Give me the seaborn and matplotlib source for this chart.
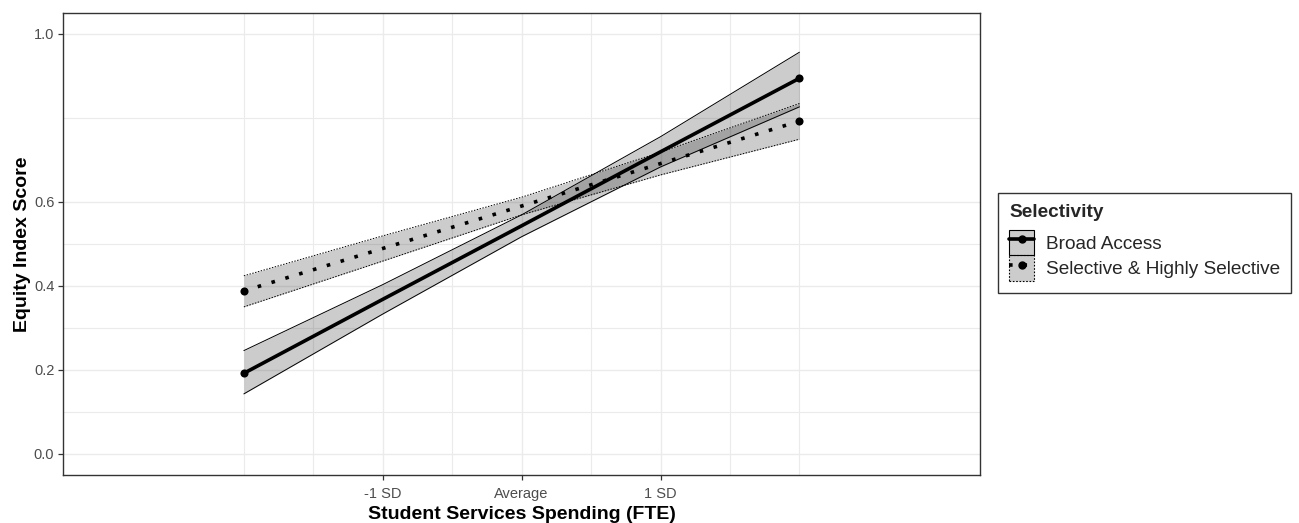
import numpy as np
import pandas as pd
import matplotlib
matplotlib.use("Agg")
import matplotlib.pyplot as plt
from matplotlib.patches import Patch
from matplotlib.lines import Line2D
import seaborn as sns

# Predicted equity index by student-services spending (in SD units)
spending_sd = [-2, -1, 0, 1, 2]

broad_fit = [0.192, 0.368, 0.543, 0.719, 0.894]
broad_lo = [0.143, 0.333, 0.517, 0.683, 0.826]
broad_hi = [0.246, 0.403, 0.569, 0.755, 0.956]

sel_fit = [0.388, 0.489, 0.590, 0.691, 0.792]
sel_lo = [0.350, 0.459, 0.569, 0.664, 0.749]
sel_hi = [0.424, 0.519, 0.611, 0.718, 0.834]

groups = ["Broad Access", "Selective & Highly Selective"]

x_ticks = [-1, 0, 1]
x_tick_labels = ["-1 SD", "Average", "1 SD"]
y_ticks = [0.0, 0.2, 0.4, 0.6, 1.0]
y_tick_labels = ["0.0", "0.2", "0.4", "0.6", "1.0"]

df = pd.concat([
    pd.DataFrame({"spending": spending_sd, "fit": broad_fit, "lo": broad_lo,
                  "hi": broad_hi, "group": groups[0]}),
    pd.DataFrame({"spending": spending_sd, "fit": sel_fit, "lo": sel_lo,
                  "hi": sel_hi, "group": groups[1]}),
], ignore_index=True)

sns.set_theme(style="white")
plt.rcParams["font.family"] = ["Liberation Sans", "DejaVu Sans"]

W, H = 1299, 523
fig = plt.figure(figsize=(W / 100, H / 100), dpi=100)
left, right, top, bottom = 63.3, 980, 12.7, 475
ax = fig.add_axes([left / W, 1 - bottom / H, (right - left) / W, (bottom - top) / H])

band_fill = (0, 0, 0, 0.2)
line_style = {groups[0]: "-", groups[1]: (0, (1, 3))}
edge_style = {groups[0]: "-", groups[1]: (0, (1.5, 1.5))}

for g in groups:
    d = df[df["group"] == g]
    ax.fill_between(d["spending"], d["lo"], d["hi"], color=band_fill, lw=0, zorder=2)
    ax.plot(d["spending"], d["lo"], color="black", lw=0.7, ls=edge_style[g], zorder=3)
    ax.plot(d["spending"], d["hi"], color="black", lw=0.7, ls=edge_style[g], zorder=3)

for g in groups:
    d = df[df["group"] == g]
    sns.lineplot(data=d, x="spending", y="fit", color="black", linewidth=2.6,
                 linestyle=line_style[g], sort=False, errorbar=None, ax=ax,
                 legend=False, zorder=4)
    ends = d[d["spending"].isin([min(spending_sd), max(spending_sd)])]
    sns.scatterplot(data=ends, x="spending", y="fit", color="black", s=34,
                    linewidth=0, ax=ax, legend=False, zorder=5)

ax.set_xlim(-3.3, 3.3)
ax.set_ylim(-0.05, 1.05)
ax.set_xticks(x_ticks)
ax.set_xticklabels(x_tick_labels)
ax.set_yticks(y_ticks)
ax.set_yticklabels(y_tick_labels)
ax.set_xticks([-2, -1.5, -0.5, 0.5, 1.5, 2], minor=True)
ax.set_yticks([0.1, 0.3, 0.5, 0.8], minor=True)

ax.grid(True, which="major", color="#EBEBEB", lw=1.0, zorder=0)
ax.grid(True, which="minor", color="#EBEBEB", lw=0.8, zorder=0)
ax.set_axisbelow(True)
for s in ax.spines.values():
    s.set_color("#333333")
    s.set_linewidth(1.0)
ax.tick_params(axis="both", which="major", length=3.5, width=0.9, color="#333333",
               labelsize=10.5, labelcolor="#4D4D4D", pad=3, direction="out")
ax.tick_params(axis="x", which="major", pad=5)
ax.tick_params(axis="both", which="minor", length=0)
ax.tick_params(bottom=True, left=True)

ax.set_xlabel("Student Services Spending (FTE)", fontsize=14, fontweight="bold",
              color="black", labelpad=4)
ax.set_ylabel("Equity Index Score", fontsize=14, fontweight="bold",
              color="black", labelpad=2)

handles = [
    (Patch(facecolor=band_fill, edgecolor="black", lw=0.8, ls="-"),
     Line2D([], [], color="black", lw=2.6, ls="-", marker="o", ms=5)),
    (Patch(facecolor=band_fill, edgecolor="black", lw=0.8, ls=(0, (1.5, 1.5))),
     Line2D([], [], color="black", lw=2.6, ls=(0, (1, 3)), marker="o", ms=5)),
]
leg = fig.legend(handles, groups, title="Selectivity", loc="upper left",
                 bbox_to_anchor=(998 / W, 1 - 193 / H), fontsize=13.7,
                 title_fontproperties={"weight": "bold", "size": 13.7},
                 alignment="left", frameon=True, fancybox=False,
                 edgecolor="black", handlelength=1.3, handleheight=1.7,
                 handletextpad=0.6, labelspacing=0.0, borderpad=0.6,
                 borderaxespad=0)
leg._legend_box.sep = 6
leg.get_frame().set_linewidth(1.0)

fig.savefig("out.png", dpi=100)
